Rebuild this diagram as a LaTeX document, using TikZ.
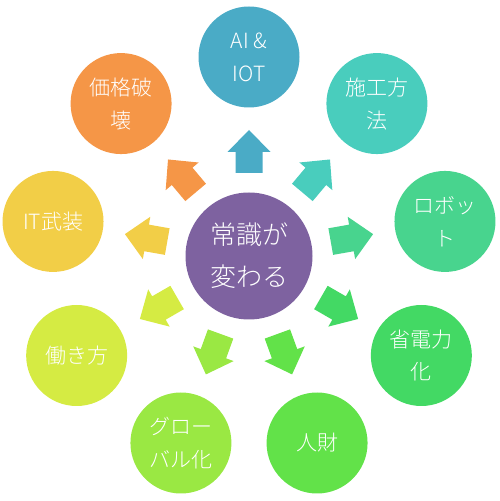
\documentclass[tikz,border=0pt]{standalone}
\usepackage{fontspec}
\usetikzlibrary{calc}
\IfFontExistsTF{Noto Sans CJK JP Light}{\newfontfamily\jp{Noto Sans CJK JP Light}}{\newfontfamily\jp{Noto Sans CJK JP}}
\definecolor{cAI}{HTML}{4AABC6}
\definecolor{cSeko}{HTML}{49CDBD}
\definecolor{cRobo}{HTML}{48D48E}
\definecolor{cSho}{HTML}{43D964}
\definecolor{cJin}{HTML}{62E249}
\definecolor{cGlo}{HTML}{9AE843}
\definecolor{cHata}{HTML}{D5EB43}
\definecolor{cIT}{HTML}{F2CE47}
\definecolor{cKaku}{HTML}{F59647}
\definecolor{cCen}{HTML}{7E62A0}
\begin{document}
\begin{tikzpicture}[x=1pt,y=1pt,
  bubble/.style={circle, minimum size=101pt, inner sep=0pt, text=white, align=center,
    font=\jp\fontsize{21}{33}\selectfont},
  hub/.style={circle, minimum size=127pt, inner sep=0pt, text=white, align=center,
    font=\jp\fontsize{26}{42}\selectfont}]
\useasboundingbox (0,0) rectangle (500,501);
\node[hub, fill=cCen] (c) at (249,245) {常識が\\変わる};
\node[bubble, fill=cAI]   (ai)   at ($(c)+(90:199)$)   {AI \&\\IOT};
\node[bubble, fill=cSeko] (seko) at ($(c)+(50:199)$)   {施工方\\法};
\node[bubble, fill=cRobo] (robo) at ($(c)+(10:199)$)   {ロボッ\\ト};
\node[bubble, fill=cSho]  (sho)  at ($(c)+(-30:199)$)  {省電力\\化};
\node[bubble, fill=cJin]  (jin)  at ($(c)+(-70:199)$)  {人財};
\node[bubble, fill=cGlo]  (glo)  at ($(c)+(-110:199)$) {グロー\\バル化};
\node[bubble, fill=cHata] (hata) at ($(c)+(-150:199)$) {働き方};
\node[bubble, fill=cIT]   (it)   at ($(c)+(170:199)$)  {IT武装};
\node[bubble, fill=cKaku] (kaku) at ($(c)+(130:199)$)  {価格破\\壊};
\foreach \a/\col in {90/cAI,50/cSeko,10/cRobo,-30/cSho,-70/cJin,-110/cGlo,-150/cHata,170/cIT,130/cKaku}{
  \begin{scope}[shift={(c)}, rotate=\a]
    \fill[\col] (83,13.5) -- (104,13.5) -- (104,21.5) -- (126,0) -- (104,-21.5) -- (104,-13.5) -- (83,-13.5) -- cycle;
  \end{scope}
}
\end{tikzpicture}
\end{document}
